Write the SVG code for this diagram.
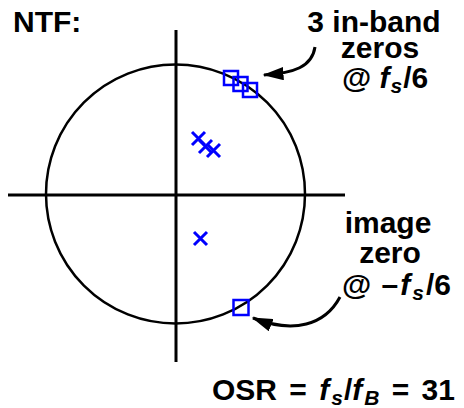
<svg xmlns="http://www.w3.org/2000/svg" width="464" height="408" viewBox="0 0 464 408">
<style>
.ax{stroke:#000;stroke-width:3;fill:none}
.circ{stroke:#000;stroke-width:2.5;fill:none}
.zero{stroke:#0000ff;stroke-width:2.5;fill:none}
.pole{stroke:#0000ff;stroke-width:3;fill:none}
.lbl{font-family:"Liberation Sans",Arial,sans-serif;font-weight:bold;font-size:30px;fill:#000}
.it{font-style:italic}
.sub{font-size:21px;font-style:italic}
.arr{stroke:#000;stroke-width:3;fill:none}
</style>
<defs>
<marker id="ah" markerWidth="7" markerHeight="4.4" refX="6.5" refY="2.2" orient="auto" markerUnits="strokeWidth">
<path d="M0,0 L7,2.2 L0,4.4 Z" fill="#000"/>
</marker>
</defs>
<g id="axes">
<line class="ax" x1="8" y1="195" x2="345" y2="195"/>
<line class="ax" x1="176" y1="30" x2="176" y2="362"/>
</g>
<g id="unit-circle">
<circle class="circ" cx="175.5" cy="194" r="129.5"/>
</g>
<g id="zeros">
<rect class="zero" x="224" y="71" width="14" height="14"/>
<rect class="zero" x="233.5" y="77" width="14" height="14"/>
<rect class="zero" x="243" y="83" width="14" height="14"/>
<rect class="zero" x="233.5" y="300" width="15" height="15"/>
</g>
<g id="poles">
<path class="pole" d="M192,132 L205,145 M205,132 L192,145"/>
<path class="pole" d="M199,140 L212,153 M212,140 L199,153"/>
<path class="pole" d="M207,144 L220,157 M220,144 L207,157"/>
<path class="pole" d="M194,232 L207,245 M207,232 L194,245"/>
</g>
<g id="connectors">
<path class="arr" d="M315,47 C312,67 294,73 264,75" marker-end="url(#ah)"/>
<path class="arr" d="M340,297 C325,325 294,334 253,318" marker-end="url(#ah)"/>
</g>
<g id="title">
<text class="lbl" x="13" y="32">NTF:</text>
</g>
<g id="label-inband">
<text class="lbl" x="374" y="32" text-anchor="middle">3 in-band</text>
<text class="lbl" x="380" y="58" text-anchor="middle">zeros</text>
<text class="lbl" x="342" y="88">@ <tspan class="it">f</tspan><tspan class="sub" dx="1" dy="5">s</tspan><tspan dx="1" dy="-5">/6</tspan></text>
</g>
<g id="label-image">
<text class="lbl" x="388" y="233" text-anchor="middle">image</text>
<text class="lbl" x="390" y="263" text-anchor="middle">zero</text>
<text class="lbl" x="342" y="295">@ <tspan dx="2">–</tspan><tspan class="it" dx="2">f</tspan><tspan class="sub" dx="2" dy="5">s</tspan><tspan dx="2" dy="-5">/6</tspan></text>
</g>
<g id="label-osr">
<text class="lbl" x="212" y="400" word-spacing="4">OSR = <tspan class="it">f</tspan><tspan class="sub" dx="2" dy="5">s</tspan><tspan dx="1" dy="-5">/</tspan><tspan class="it">f</tspan><tspan class="sub" dx="2" dy="5">B</tspan><tspan dy="-5"> = 31</tspan></text>
</g>
</svg>
